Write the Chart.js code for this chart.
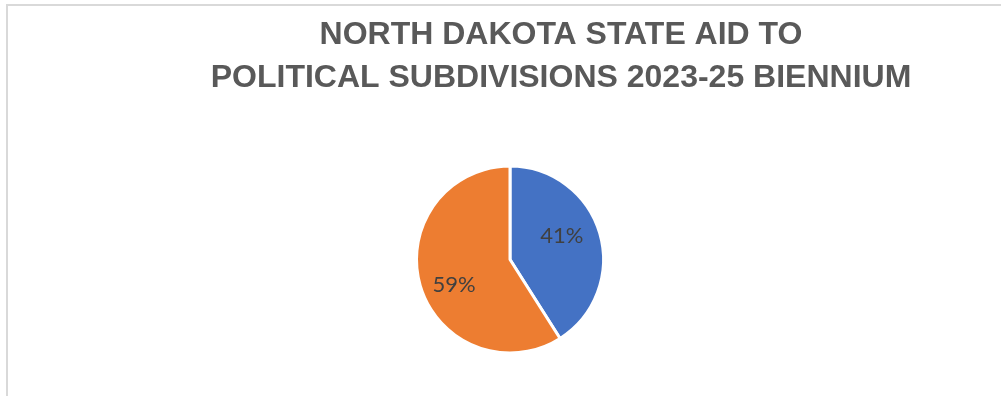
<!DOCTYPE html>
<html>
<head>
<meta charset="utf-8">
<script src="https://cdn.jsdelivr.net/npm/chart.js@4.4.0/dist/chart.umd.min.js"></script>
<style>
  html, body { margin: 0; padding: 0; background: #ffffff; overflow: hidden; }
  #wrap { position: absolute; left: 0; top: 0; width: 1001px; height: 396px; }
</style>
</head>
<body>
<div id="wrap"><canvas id="c" width="1001" height="396"></canvas></div>
<script>
// ---- data ----
const titleLines = ["NORTH DAKOTA STATE AID TO", "POLITICAL SUBDIVISIONS 2023-25 BIENNIUM"];
const categories = ["Share A", "Share B"];
const values = [41, 59];
const sliceColors = ["#4472C4", "#ED7D31"];

// border frame (chart area outline, partially visible)
const framePlugin = {
  id: 'frame',
  beforeDraw(chart) {
    const ctx = chart.ctx;
    ctx.save();
    ctx.fillStyle = '#ffffff';
    ctx.fillRect(0, 0, chart.width, chart.height);
    ctx.strokeStyle = '#d9d9d9';
    ctx.lineWidth = 2;
    ctx.beginPath();
    ctx.moveTo(7, chart.height + 2);
    ctx.lineTo(7, 5);
    ctx.lineTo(chart.width + 2, 5);
    ctx.stroke();
    ctx.restore();
  }
};

// two-line title, centred at x = 561
const titlePlugin = {
  id: 'twoLineTitle',
  afterDraw(chart) {
    const ctx = chart.ctx;
    ctx.save();
    ctx.fillStyle = '#595959';
    ctx.font = 'bold 32px "Liberation Sans Narrow", "Liberation Sans", sans-serif';
    ctx.textAlign = 'center';
    ctx.textBaseline = 'alphabetic';
    ctx.fillText(titleLines[0], 561, 44);
    ctx.fillText(titleLines[1], 561, 87);
    ctx.restore();
  }
};

// percentage labels inside slices
const labelPlugin = {
  id: 'pctLabels',
  afterDatasetsDraw(chart) {
    const ctx = chart.ctx;
    const meta = chart.getDatasetMeta(0);
    const total = values.reduce((a, b) => a + b, 0);
    ctx.save();
    ctx.fillStyle = '#404040';
    ctx.font = '22px Lato, "Open Sans", sans-serif';
    ctx.textAlign = 'center';
    ctx.textBaseline = 'middle';
    meta.data.forEach((arc, i) => {
      const p = arc.getProps(['x', 'y', 'startAngle', 'endAngle', 'outerRadius'], true);
      const mid = (p.startAngle + p.endAngle) / 2 - 0.15;
      const r = p.outerRadius * (i === 0 ? 0.61 : 0.66);
      const x = p.x + Math.cos(mid) * r;
      const y = p.y + Math.sin(mid) * r;
      ctx.fillText(Math.round(values[i] / total * 100) + '%', x, y);
    });
    ctx.restore();
  }
};

new Chart(document.getElementById('c'), {
  type: 'pie',
  data: {
    labels: categories,
    datasets: [{
      data: values,
      backgroundColor: sliceColors,
      borderColor: '#ffffff',
      borderWidth: 3
    }]
  },
  options: {
    responsive: false,
    animation: false,
    layout: { padding: { left: 415, right: 396, top: 164, bottom: 41 } },
    plugins: {
      legend: { display: false },
      tooltip: { enabled: false },
      title: { display: false }
    }
  },
  plugins: [framePlugin, titlePlugin, labelPlugin]
});
</script>
</body>
</html>
